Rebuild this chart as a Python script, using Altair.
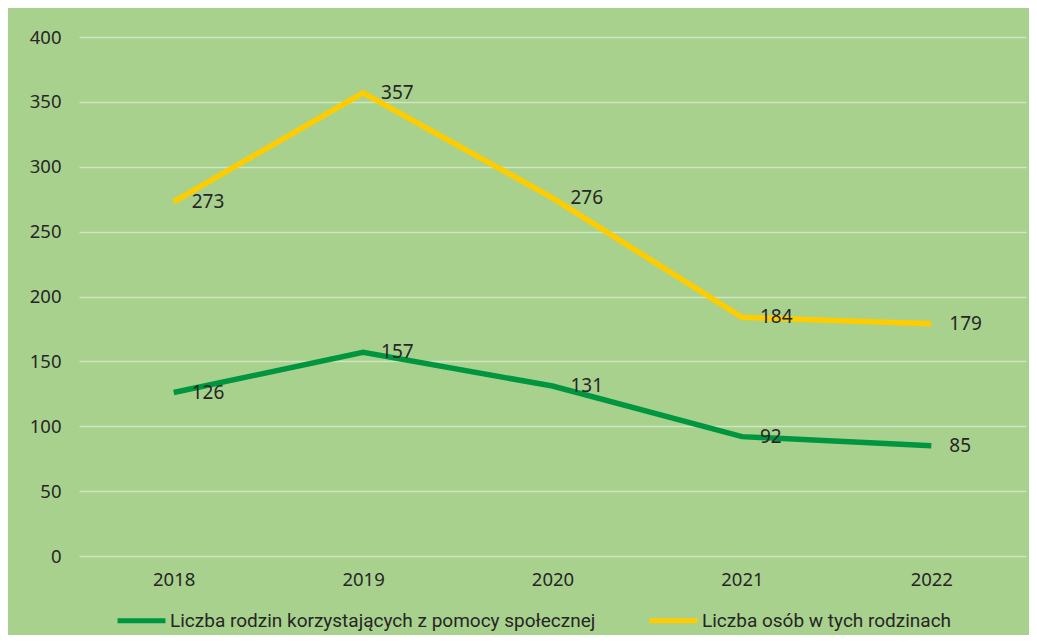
import altair as alt
import pandas as pd

years = ["2018", "2019", "2020", "2021", "2022"]
series_families = "Liczba rodzin korzystających z pomocy społecznej"
series_people = "Liczba osób w tych rodzinach"
families = [126, 157, 131, 92, 85]
people = [273, 357, 276, 184, 179]

rows = []
for y, v in zip(years, families):
    rows.append({"rok": y, "seria": series_families, "wartosc": v})
for y, v in zip(years, people):
    rows.append({"rok": y, "seria": series_people, "wartosc": v})
df = pd.DataFrame(rows)

BG = "#A9D18E"
TXT = "#262626"
FONT = "Noto Sans"

color = alt.Color(
    "seria:N",
    scale=alt.Scale(domain=[series_families, series_people], range=["#00963F", "#FFCC00"]),
    legend=alt.Legend(
        title=None,
        orient="none",
        legendX=36,
        legendY=557,
        direction="horizontal",
        symbolType="stroke",
        symbolSize=2300,
        symbolStrokeWidth=5,
        labelFontSize=19,
        labelFont="Roboto",
        labelColor=TXT,
        labelLimit=600,
        labelOffset=2,
        columnPadding=43,
    ),
)

x = alt.X(
    "rok:O",
    scale=alt.Scale(type="point", padding=0.5),
    axis=alt.Axis(title=None, labelAngle=0, domain=False, ticks=False, labelPadding=14,
                  labelFontSize=18.5, labelFont=FONT, labelColor=TXT, grid=False),
)
y = alt.Y(
    "wartosc:Q",
    scale=alt.Scale(domain=[0, 400], nice=False),
    axis=alt.Axis(title=None, values=list(range(0, 401, 50)), domain=False, ticks=False,
                  labelPadding=18, labelFontSize=18.5, labelFont=FONT, labelColor=TXT,
                  gridColor="#FFFFFF", gridOpacity=0.45, gridWidth=1.5),
)

lines = alt.Chart(df).mark_line(strokeWidth=5.5).encode(x=x, y=y, color=color)
labels = alt.Chart(df).mark_text(
    align="left", baseline="middle", dx=18, fontSize=19, font=FONT, color=TXT
).encode(x="rok:O", y="wartosc:Q", text="wartosc:Q")

chart = (
    alt.layer(lines, labels)
    .properties(
        width=947,
        height=519,
        background=BG,
        autosize=alt.AutoSizeParams(type="none"),
        padding={"left": 71, "top": 29, "right": 3, "bottom": 79},
    )
    .configure_view(stroke=None)
)

chart.save("out.html", embed_options={"renderer": "svg", "actions": False})
